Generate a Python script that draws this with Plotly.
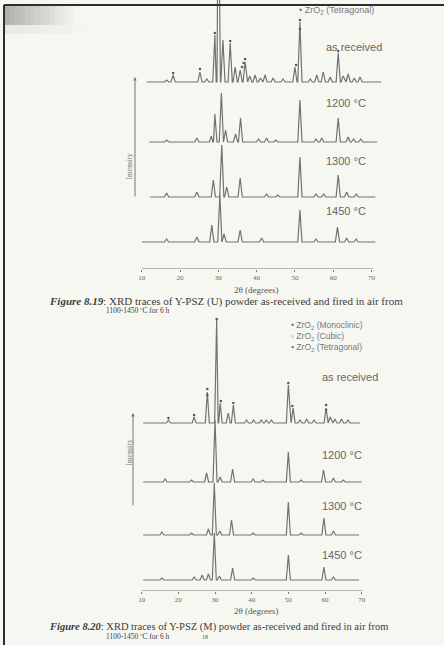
import plotly.graph_objects as go

W, H = 444, 645

# ---------------- DATA ----------------
TICKS = [10, 20, 30, 40, 50, 60, 70]

# Figure 8.19  Y-PSZ (U): peak positions (2theta) and heights (a.u.)
U_AR_pos = [16.5, 18.2, 25.2, 27.0, 29.1, 30.0, 31.2, 33.1, 34.4, 35.7, 37.0, 38.2, 39.6, 41.0,
            42.2, 44.3, 46.9, 50.0, 51.3, 54.0, 55.7, 57.4, 59.2, 61.3, 62.6, 63.9, 65.5, 67.0]
U_AR_h = [2, 7, 10, 3, 47, 215, 42, 39, 15, 12, 20, 6, 7, 4,
          7, 4, 3, 15, 60, 3, 7, 10, 5, 29, 6, 8, 4, 5]
U_1200_pos = [16.5, 24.4, 28.2, 29.1, 30.8, 31.9, 34.5, 35.8, 40.5, 42.6, 45.0, 51.3, 55.5,
              57.0, 61.3, 63.9, 65.3, 67.2]
U_1200_h = [2, 4, 6, 28, 49, 12, 8, 24, 3, 4, 2, 42, 3, 4, 24, 5, 3, 3]
U_1300_pos = [16.5, 24.4, 28.7, 30.9, 32.2, 35.7, 42.6, 45.5, 51.3, 55.5, 57.5, 61.3, 63.5, 66.0]
U_1300_h = [4, 5, 17, 52, 10, 19, 3, 2, 40, 3, 3, 22, 5, 3]
U_1450_pos = [16.5, 24.4, 28.3, 30.4, 31.5, 35.7, 41.3, 51.3, 55.5, 61.1, 63.5, 66.0]
U_1450_h = [3, 5, 17, 47, 8, 12, 4, 32, 3, 15, 4, 3]
U_ranges = [(11.3, 72.5), (12.0, 71.5), (12.2, 71.0), (10.0, 71.0)]
U_offsets = [187, 127, 72, 27]
U_labels = ["as received", "1200 °C", "1300 °C", "1450 °C"]
U_mark_pos = [18.2, 25.2, 29.1, 33.1, 36.2, 36.6, 37.0, 50.3, 51.3, 51.3, 61.3]
U_mark_h = [9, 13, 49, 41, 15, 19, 23, 17, 62, 53, 31]

# Figure 8.20  Y-PSZ (M)
M_AR_pos = [17.3, 24.3, 27.9, 30.45, 31.4, 33.6, 35.0, 38.6, 40.5, 42.6, 44.0, 45.4, 50.0, 51.3,
            53.2, 55.0, 57.0, 60.3, 61.4, 62.7, 64.5, 66.3]
M_AR_h = [3, 6, 31, 104, 20, 10, 18, 3, 3, 3, 3, 3, 38, 15, 3, 4, 3, 15, 6, 4, 4, 3]
M_1200_pos = [16.4, 23.6, 27.7, 30.0, 31.4, 34.8, 40.4, 43.0, 50.0, 53.5, 59.6, 62.3, 65.0]
M_1200_h = [3, 2, 9, 62, 5, 13, 3, 2, 30, 2, 12, 4, 2]
M_1300_pos = [15.5, 23.6, 28.2, 29.8, 31.3, 34.5, 40.4, 50.0, 53.5, 59.7, 62.3]
M_1300_h = [3, 2, 6, 52, 4, 15, 2, 33, 2, 17, 4]
M_1450_pos = [15.5, 24.3, 26.5, 28.2, 29.8, 31.2, 34.8, 40.4, 50.0, 59.7, 62.3]
M_1450_h = [2, 3, 5, 6, 47, 4, 12, 2, 25, 13, 3]
M_ranges = [(10.4, 69.5), (10.4, 70.0), (10.4, 69.3), (10.4, 69.3)]
M_offsets = [168, 109, 56, 11]
M_labels = ["as received", "1200 °C", "1300 °C", "1450 °C"]
M_mark_pos = [17.3, 24.3, 27.9, 27.9, 30.45, 31.6, 35.0, 50.0, 51.1, 60.3, 60.3]
M_mark_h = [5, 8, 34, 28, 104, 22, 20, 40, 17, 18, 13]

LEGEND_U = ["• ZrO<sub>2</sub> (Tetragonal)"]
LEGEND_M = ["• ZrO<sub>2</sub> (Monoclinic)", "◦ ZrO<sub>2</sub> (Cubic)",
            "▪ ZrO<sub>2</sub> (Tetragonal)"]
CAP_U = ["<b><i>Figure 8.19</i></b>: XRD traces of Y-PSZ (U) powder as-received and fired in air from",
         "1100-1450 ºC for 6 h"]
CAP_M = ["<b><i>Figure 8.20</i></b>: XRD traces of Y-PSZ (M) powder as-received and fired in air from",
         "1100-1450 ºC for 6 h"]

# ---------------- helpers ----------------
def px(x):
    return x / W


def py(y):
    return 1 - y / H


HW = 0.55  # half base width of a peak (style)


def trace_xy(rng, base, pos, hts):
    pts = [(rng[0], base), (rng[1], base)]
    for p, h in zip(pos, hts):
        pts += [(p - HW, base), (p, base + h), (p + HW, base)]
    pts.sort(key=lambda t: t[0])
    return [a for a, _ in pts], [b for _, b in pts]


LINE = dict(color="#727272", width=1.2)
fig = go.Figure()

U_sets = [(U_AR_pos, U_AR_h), (U_1200_pos, U_1200_h), (U_1300_pos, U_1300_h), (U_1450_pos, U_1450_h)]
for (pos, hts), rng, off in zip(U_sets, U_ranges, U_offsets):
    x, y = trace_xy(rng, off, pos, hts)
    fig.add_trace(go.Scatter(x=x, y=y, mode="lines", line=LINE, xaxis="x", yaxis="y",
                             hoverinfo="skip"))
fig.add_trace(go.Scatter(x=U_mark_pos, y=[U_offsets[0] + h for h in U_mark_h], mode="markers",
                         marker=dict(size=2.5, color="#555"), xaxis="x", yaxis="y"))

M_sets = [(M_AR_pos, M_AR_h), (M_1200_pos, M_1200_h), (M_1300_pos, M_1300_h), (M_1450_pos, M_1450_h)]
for (pos, hts), rng, off in zip(M_sets, M_ranges, M_offsets):
    x, y = trace_xy(rng, off, pos, hts)
    fig.add_trace(go.Scatter(x=x, y=y, mode="lines", line=LINE, xaxis="x2", yaxis="y2",
                             hoverinfo="skip"))
fig.add_trace(go.Scatter(x=M_mark_pos, y=[M_offsets[0] + h for h in M_mark_h], mode="markers",
                         marker=dict(size=2.5, color="#555"), xaxis="x2", yaxis="y2"))

tickfont = dict(family="Liberation Serif", size=7, color="#666")
common_x = dict(tickvals=TICKS, ticks="outside", ticklen=2, tickcolor="#777", showgrid=False,
                zeroline=False, showline=False, tickfont=tickfont, automargin=False)
common_y = dict(visible=False, showgrid=False, zeroline=False, automargin=False)

fig.update_layout(
    width=W, height=H, margin=dict(l=0, r=0, t=0, b=0),
    paper_bgcolor="#f7f7f2", plot_bgcolor="rgba(0,0,0,0)", showlegend=False,
    xaxis=dict(domain=[px(141.7), px(381.5)], range=[10, 72.6], anchor="y", **common_x),
    yaxis=dict(domain=[py(269), 1], range=[0, 269], **common_y),
    xaxis2=dict(domain=[px(141.7), px(363.5)], range=[10, 70.5], anchor="y2", **common_x),
    yaxis2=dict(domain=[py(591), py(318)], range=[0, 273], **common_y),
)

shapes = []
# axis lines
shapes.append(dict(type="line", xref="x", yref="y", x0=10, x1=70.4, y0=0, y1=0,
                   line=dict(color="#777", width=1)))
shapes.append(dict(type="line", xref="x2", yref="y2", x0=10, x1=70.3, y0=0, y1=0,
                   line=dict(color="#777", width=1)))
# scanned-page shading top-left
for i in range(14):
    a = 0.5 * (1 - i / 14)
    shapes.append(dict(type="rect", xref="paper", yref="paper", x0=px(5 + i * 5), x1=px(10 + i * 5),
                       y0=py(25), y1=py(6), line=dict(width=0),
                       fillcolor=f"rgba(110,110,110,{a:.3f})"))
    shapes.append(dict(type="rect", xref="paper", yref="paper", x0=px(5 + i * 6), x1=px(11 + i * 6),
                       y0=py(34), y1=py(25), line=dict(width=0),
                       fillcolor=f"rgba(150,150,150,{a * 0.3:.3f})"))
# page border
shapes.append(dict(type="line", xref="paper", yref="paper", x0=px(4), x1=px(4), y0=0, y1=py(5),
                   line=dict(color="#2e2e2e", width=2)))
shapes.append(dict(type="line", xref="paper", yref="paper", x0=px(4), x1=1, y0=py(5), y1=py(5),
                   line=dict(color="#2e2e2e", width=2)))
fig.update_layout(shapes=shapes)

ann = []
lab_font = dict(family="Liberation Sans", size=11, color="#666")
for lab, y in zip(U_labels, [47, 103, 161, 211]):
    ann.append(dict(x=px(324), y=py(y), xref="paper", yref="paper", text=lab, showarrow=False,
                    xanchor="left", yanchor="middle", font=lab_font))
for lab, y in zip(M_labels, [377, 455, 506, 555]):
    ann.append(dict(x=px(320), y=py(y), xref="paper", yref="paper", text=lab, showarrow=False,
                    xanchor="left", yanchor="middle", font=lab_font))
for t, y in zip(LEGEND_U, [10]):
    ann.append(dict(x=px(297), y=py(y), xref="paper", yref="paper", text=t, showarrow=False,
                    xanchor="left", yanchor="middle",
                    font=dict(family="Liberation Sans", size=9, color="#777")))
for t, y in zip(LEGEND_M, [325, 336, 347]):
    ann.append(dict(x=px(289), y=py(y), xref="paper", yref="paper", text=t, showarrow=False,
                    xanchor="left", yanchor="middle",
                    font=dict(family="Liberation Sans", size=8.5, color="#777")))
# intensity arrows and labels
for xa, ytop, ybot, ylab in [(135, 77, 198, 152), (133, 413, 507, 468)]:
    ann.append(dict(x=px(xa), y=py(ytop), xref="paper", yref="paper", ax=0, ay=ybot - ytop,
                    axref="pixel", ayref="pixel", text="", showarrow=True, arrowhead=2,
                    arrowsize=0.7, arrowwidth=1, arrowcolor="#777"))
    ann.append(dict(x=px(122), y=py(ylab), xref="paper", yref="paper", text="Intensity",
                    textangle=-90, showarrow=False, font=dict(family="Liberation Serif", size=7.5,
                                                             color="#777")))
# x titles
for y in [290, 618]:
    ann.append(dict(x=px(256), y=py(y), xref="paper", yref="paper", text="2θ (degrees)",
                    showarrow=False, font=dict(family="Liberation Serif", size=9, color="#555")))
for lines, y0, dy, s1 in [(CAP_U, 301, 9, 11), (CAP_M, 627, 9, 10.5)]:
    ann.append(dict(x=px(47), y=py(y0), xref="paper", yref="paper", text=lines[0], showarrow=False,
                    xanchor="left", yanchor="middle",
                    font=dict(family="Liberation Serif", size=s1, color="#3c3c3c")))
    ann.append(dict(x=px(104), y=py(y0 + dy), xref="paper", yref="paper", text=lines[1],
                    showarrow=False, xanchor="left", yanchor="middle",
                    font=dict(family="Liberation Serif", size=7.5, color="#3c3c3c")))
ann.append(dict(x=px(205), y=py(642), xref="paper", yref="paper", text="18", showarrow=False,
                font=dict(family="Liberation Serif", size=6, color="#555")))
fig.update_layout(annotations=ann)

fig.write_html("out.html", config={"displayModeBar": False},
               post_script="document.body.style.margin='0';")
